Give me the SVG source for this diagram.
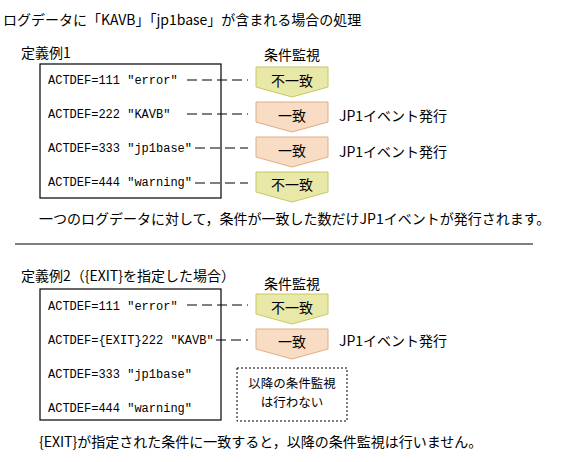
<svg xmlns="http://www.w3.org/2000/svg" width="583" height="462" viewBox="0 0 583 462">
<style>
.t{font-family:"Noto Sans CJK JP","Liberation Sans",sans-serif;font-size:14px;fill:#000}
.s{font-size:12.5px}
.m{font-family:"Liberation Mono",monospace;font-size:12px;fill:#000}
.c{text-anchor:middle}
.box{fill:none;stroke:#000;stroke-width:1.2}
.dash{fill:none;stroke:#000;stroke-width:1.2;stroke-dasharray:10,5}
.ng{fill:#e8e8a8;stroke:#c8c860;stroke-width:1}
.ok{fill:#f8dcc4;stroke:#e0ac88;stroke-width:1}
.dot{fill:none;stroke:#000;stroke-width:1;stroke-dasharray:2,2}
</style>
<rect width="583" height="462" fill="#fff"/>
<text class="t" x="3" y="25">ログデータに「KAVB」「jp1base」が含まれる場合の処理</text>
<text class="t" x="21" y="58">定義例1</text>
<text class="t c" x="292" y="60">条件監視</text>

<g id="connectors">
<line class="dash" x1="187" y1="80" x2="248" y2="80"/>
<line class="dash" x1="187" y1="114" x2="248" y2="114"/>
<line class="dash" x1="195" y1="148" x2="248" y2="148"/>
<line class="dash" x1="195" y1="183" x2="248" y2="183"/>
<line class="dash" x1="187" y1="305" x2="248" y2="305"/>
<line class="dash" x1="216" y1="340" x2="248" y2="340"/>
</g>

<g id="def1">
<rect class="box" x="40" y="64" width="181" height="134"/>
<text class="m" x="48" y="84">ACTDEF=111 "error"</text>
<text class="m" x="48" y="118">ACTDEF=222 "KAVB"</text>
<text class="m" x="48" y="152">ACTDEF=333 "jp1base"</text>
<text class="m" x="48" y="186">ACTDEF=444 "warning"</text>
</g>

<g id="c1">
<polygon class="ng" points="256,67 328,67 328,87 292,97 256,87"/>
<text class="t c" x="292" y="86">不一致</text>
</g>
<g id="c2">
<polygon class="ok" points="256,102 328,102 328,122 292,132 256,122"/>
<text class="t c" x="292" y="121">一致</text>
</g>
<g id="c3">
<polygon class="ok" points="256,137 328,137 328,157 292,167 256,157"/>
<text class="t c" x="292" y="156">一致</text>
</g>
<g id="c4">
<polygon class="ng" points="256,172 328,172 328,192 292,202 256,192"/>
<text class="t c" x="292" y="190">不一致</text>
</g>
<text class="t" x="339" y="121">JP1イベント発行</text>
<text class="t" x="339" y="157">JP1イベント発行</text>

<text class="t" x="39" y="224">一つのログデータに対して，条件が一致した数だけJP1イベントが発行されます。</text>
<line x1="15" y1="244" x2="533" y2="244" stroke="#000" stroke-width="1.2"/>

<text class="t" x="21" y="281">定義例2（{EXIT}を指定した場合）</text>
<text class="t c" x="292" y="289">条件監視</text>

<g id="def2">
<rect class="box" x="40" y="289" width="181" height="131"/>
<text class="m" x="48" y="310">ACTDEF=111 "error"</text>
<text class="m" x="48" y="344">ACTDEF={EXIT}222 "KAVB"</text>
<text class="m" x="48" y="378">ACTDEF=333 "jp1base"</text>
<text class="m" x="48" y="412">ACTDEF=444 "warning"</text>
</g>

<g id="c5">
<polygon class="ng" points="256,294 328,294 328,314 292,324 256,314"/>
<text class="t c" x="292" y="313">不一致</text>
</g>
<g id="c6">
<polygon class="ok" points="256,329 328,329 328,349 292,359 256,349"/>
<text class="t c" x="292" y="347">一致</text>
</g>
<text class="t" x="339" y="346">JP1イベント発行</text>

<g id="stop">
<rect class="dot" x="237" y="368" width="110" height="53"/>
<text class="t s c" x="292" y="388">以降の条件監視</text>
<text class="t s c" x="292" y="407">は行わない</text>
</g>

<text class="t" x="39" y="447">{EXIT}が指定された条件に一致すると，以降の条件監視は行いません。</text>
</svg>
